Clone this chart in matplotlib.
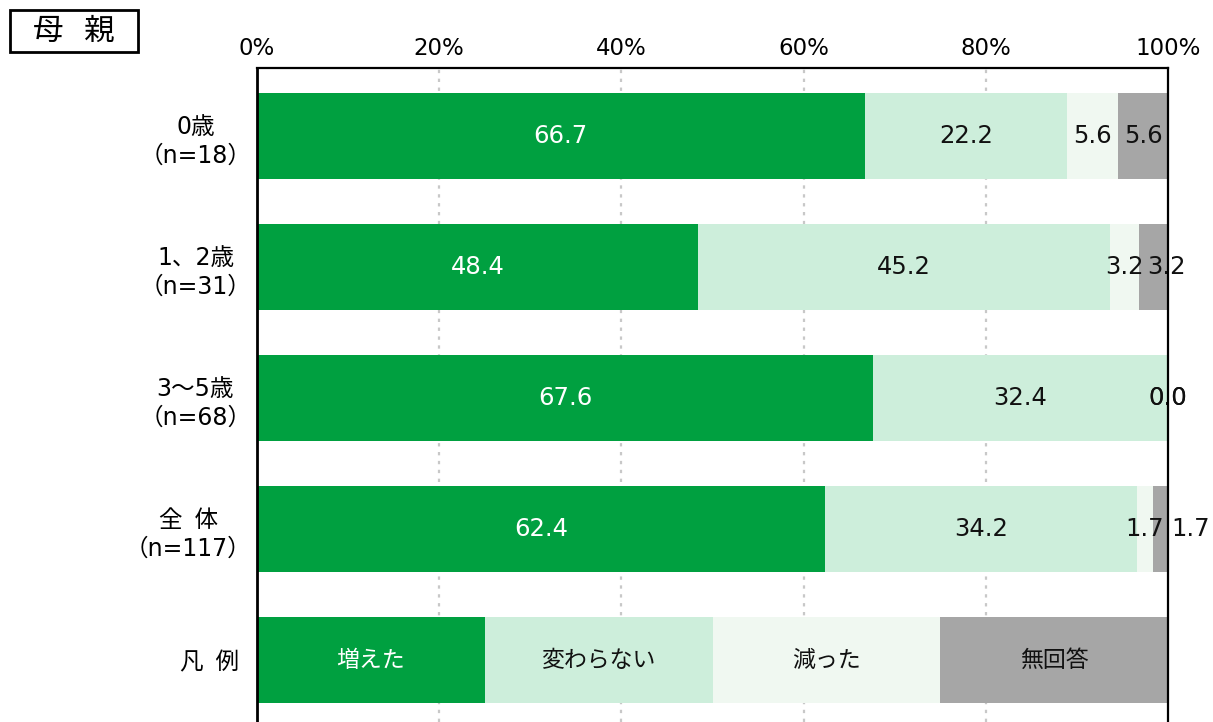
import matplotlib
matplotlib.use("Agg")
import matplotlib.pyplot as plt
import numpy as np

plt.rcParams['font.family'] = ['DejaVu Sans', 'Noto Sans CJK JP']

categories = ["0歳\n（n=18）", "1、2歳\n（n=31）", "3～5歳\n（n=68）", "全\u2002体\n（n=117）", "凡\u2002例\u2002"]
series_names = ["増えた", "変わらない", "減った", "無回答"]
inc = [66.7, 48.4, 67.6, 62.4]
same = [22.2, 45.2, 32.4, 34.2]
dec = [5.6, 3.2, 0.0, 1.7]
noans = [5.6, 3.2, 0.0, 1.7]
legend_share = [25, 25, 25, 25]
xticks = [0, 20, 40, 60, 80, 100]
xticklabels = ["0%", "20%", "40%", "60%", "80%", "100%"]

colors = ["#00A040", "#CDEEDB", "#F0F8F1", "#A6A6A6"]
text_colors = ["white", "#111111", "#111111", "#111111"]
# manual label nudges (data units) for crowded labels: (row, series) -> dx
nudges = {(1, 3): 1.4, (3, 3): 3.3}

fig = plt.figure(figsize=(12.13, 7.22), dpi=100)
ax = fig.add_axes([257/1213, 0.0, (1168-257)/1213, 1-68/722])

data = [inc, same, dec, noans]
nrows = len(inc)
for i in range(nrows):
    left = 0
    for s in range(4):
        v = data[s][i]
        ax.barh(i, v, left=left, height=0.66, color=colors[s], zorder=2)
        cx = left + v/2 + nudges.get((i, s), 0)
        ax.text(cx, i, f"{v:.1f}", ha='center', va='center', fontsize=17.5,
                color=text_colors[s], zorder=3)
        left += v

# legend row
left = 0
for s in range(4):
    v = legend_share[s]
    ax.barh(nrows, v, left=left, height=0.66, color=colors[s], zorder=2)
    ax.text(left + v/2, nrows, series_names[s], ha='center', va='center', fontsize=16.5,
            color=text_colors[s], zorder=3,
            family=['Noto Sans CJK JP', 'DejaVu Sans'])
    left += v

ax.set_xlim(0, 100)
ax.set_ylim(4 + (722-660)/131, -0.52)
ax.set_yticks(range(len(categories)))
ax.set_yticklabels(categories, fontsize=17, multialignment='center', linespacing=1.25)
ax.tick_params(axis='y', length=0, pad=4)
ax.xaxis.tick_top()
ax.set_xticks(xticks)
ax.set_xticklabels(xticklabels, fontsize=16.5)
ax.tick_params(axis='x', length=0, pad=6)

for x in xticks[1:-1]:
    ax.axvline(x, color='#C8C8C8', lw=1.6, ls=(0, (1.5, 2.5)), zorder=1)

ax.spines['bottom'].set_visible(False)
ax.spines['left'].set_linewidth(2)
ax.spines['top'].set_linewidth(1.6)
ax.spines['right'].set_linewidth(1.6)
for sp in ax.spines.values():
    sp.set_color('black')
    sp.set_zorder(4)

# title box
fig.text(74/1213, 1-31/722, "母   親", ha='center', va='center', fontsize=22,
         family=['Noto Sans CJK JP', 'DejaVu Sans'])
fig.patches.append(plt.Rectangle((10/1213, 1-52/722), 128/1213, 42/722, transform=fig.transFigure,
                                 fill=False, edgecolor='black', linewidth=2))

fig.savefig("out.png", dpi=100)
